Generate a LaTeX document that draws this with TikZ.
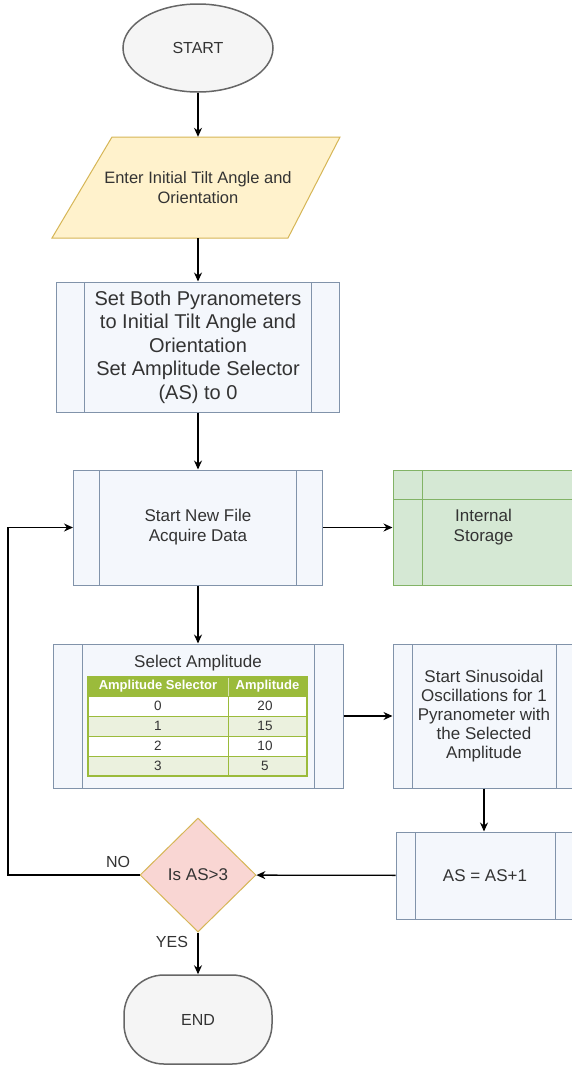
\documentclass[tikz,border=0pt]{standalone}
\usepackage{fontspec}
\setmainfont{Liberation Sans}
\usetikzlibrary{shapes.geometric,arrows.meta}

\definecolor{termfill}{HTML}{F5F5F5}
\definecolor{termline}{HTML}{666666}
\definecolor{iofill}{HTML}{FFF2CC}
\definecolor{ioline}{HTML}{D6B656}
\definecolor{procfill}{HTML}{F4F7FC}
\definecolor{procline}{HTML}{8193AA}
\definecolor{storefill}{HTML}{D5E8D4}
\definecolor{storeline}{HTML}{82B366}
\definecolor{decfill}{HTML}{F9D6D3}
\definecolor{tabgreen}{HTML}{9BBB3B}
\definecolor{tabrow}{HTML}{EBF1DE}
\definecolor{txt}{HTML}{333333}

\tikzset{
  flow/.style={-{Stealth[length=9pt,width=8pt]}, line width=1.3pt, black},
  terminal/.style={draw=termline, fill=termfill, line width=1.5pt, inner sep=0pt, text=txt, font=\fontsize{16}{19}\selectfont},
  iodraw/.style={draw=ioline, fill=iofill, line width=1pt},
  iobox/.style={inner sep=0pt, minimum width=176pt, minimum height=101pt, align=center, text=txt, font=\fontsize{16.5}{20}\selectfont},
  subproc/.style={draw=procline, fill=procfill, line width=1pt, inner sep=0pt, align=center, text=txt, font=\fontsize{17}{20}\selectfont,
    path picture={
      \draw[procline, line width=1pt] ([xshift=#1]path picture bounding box.north west) -- ([xshift=#1]path picture bounding box.south west);
      \draw[procline, line width=1pt] ([xshift=-#1]path picture bounding box.north east) -- ([xshift=-#1]path picture bounding box.south east);
    }},
  storage/.style={draw=storeline, fill=storefill, line width=1pt, inner sep=0pt, align=center, text=txt, font=\fontsize{17}{20}\selectfont,
    path picture={
      \draw[storeline, line width=1pt] ([xshift=29pt]path picture bounding box.north west) -- ([xshift=29pt]path picture bounding box.south west);
      \draw[storeline, line width=1pt] ([yshift=-29pt]path picture bounding box.north west) -- ([yshift=-29pt]path picture bounding box.north east);
    }},
  decision/.style={diamond, aspect=1, draw=ioline, fill=decfill, line width=1pt, inner sep=0pt, minimum width=116pt, minimum height=114pt, text=txt, font=\fontsize{17}{20}\selectfont},
  flowtext/.style={text=txt, font=\fontsize{16}{19}\selectfont},
  tabhead/.style={fill=tabgreen, draw=tabgreen, line width=1pt},
  tabcell/.style={draw=tabgreen, line width=1pt},
  tabhd/.style={text=white, font=\fontsize{13}{15}\selectfont\bfseries},
  tabnum/.style={text=txt, font=\fontsize{13.5}{15}\selectfont}
}

\begin{document}
\begin{tikzpicture}[x=1pt,y=-1pt]
\clip (0,0) rectangle (572,1066);
\fill[white] (0,0) rectangle (572,1066);

% start and input
\node[terminal, ellipse, minimum width=150pt, minimum height=88pt] (start) at (198,48) {START};
\draw[iodraw] (52,238) -- (288,238) -- (340,137) -- (112,137) -- cycle;
\node[iobox] (enter) at (198,187.5) {Enter Initial Tilt Angle and\\Orientation};

% processes
\node[subproc=28pt, minimum width=283pt, minimum height=130pt, font=\fontsize{20}{23.5}\selectfont] (setpyr) at (198,347) {Set Both Pyranometers\\to Initial Tilt Angle and\\Orientation\\Set Amplitude Selector\\(AS) to 0};
\node[subproc=26pt, minimum width=249pt, minimum height=115pt] (newfile) at (198,527.5) {Start New File\\Acquire Data};
\node[storage, minimum width=181pt, minimum height=115pt] (store) at (483.5,527.5) {Internal\\Storage};

\node[subproc=29pt, minimum width=290pt, minimum height=144pt] (select) at (198,716) {};
\node[flowtext, font=\fontsize{17}{20}\selectfont] (seltitle) at (198,663) {Select Amplitude};

% amplitude table
\draw[tabhead] (88,677) rectangle (307,696);
\draw[white!60!tabgreen] (228,677) -- (228,696);
\draw[tabcell, fill=white] (88,696) rectangle (228,716);
\draw[tabcell, fill=white] (228,696) rectangle (307,716);
\draw[tabcell, fill=tabrow] (88,716) rectangle (228,736);
\draw[tabcell, fill=tabrow] (228,716) rectangle (307,736);
\draw[tabcell, fill=white] (88,736) rectangle (228,756);
\draw[tabcell, fill=white] (228,736) rectangle (307,756);
\draw[tabcell, fill=tabrow] (88,756) rectangle (228,776);
\draw[tabcell, fill=tabrow] (228,756) rectangle (307,776);
\draw[tabgreen, line width=1.5pt] (88,677) rectangle (307,776);

\node[tabhd] (hsel) at (158,686.5) {Amplitude Selector};
\node[tabhd] (hamp) at (267.5,686.5) {Amplitude};
\node[tabnum] (sel0) at (158,706) {0};
\node[tabnum] (amp0) at (265,706) {20};
\node[tabnum] (sel1) at (158,726) {1};
\node[tabnum] (amp1) at (265,726) {15};
\node[tabnum] (sel2) at (158,746) {2};
\node[tabnum] (amp2) at (265,746) {10};
\node[tabnum] (sel3) at (158,766) {3};
\node[tabnum] (amp3) at (265,766) {5};

\node[subproc=19pt, minimum width=182pt, minimum height=144pt, font=\fontsize{17}{19}\selectfont] (osc) at (484,716) {Start Sinusoidal\\Oscillations for 1\\Pyranometer with\\the Selected\\Amplitude};
\node[subproc=19pt, minimum width=178pt, minimum height=87pt] (inc) at (485,875.5) {AS = AS+1};

% decision and end
\node[decision] (check) at (198,875) {Is AS>3};
\node[terminal, rounded corners=40pt, minimum width=148pt, minimum height=89pt] (finish) at (198,1019.5) {END};
\node[flowtext] (no) at (118,862) {NO};
\node[flowtext] (yes) at (172,942) {YES};

% connectors
\draw[flow] (start) -- (enter);
\draw[flow] (enter) -- (setpyr);
\draw[flow] (setpyr) -- (newfile);
\draw[flow] (newfile) -- (store);
\draw[flow] (newfile) -- (select);
\draw[flow] (select) -- (osc);
\draw[flow] (osc.south) -- (osc.south |- inc.north);
\draw[flow] (inc) -- (check);
\draw[flow] (check) -- (finish);
\coordinate (back) at (8,527.5);
\draw[flow] (check.west) -| (back) -- (newfile.west);
\end{tikzpicture}
\end{document}
